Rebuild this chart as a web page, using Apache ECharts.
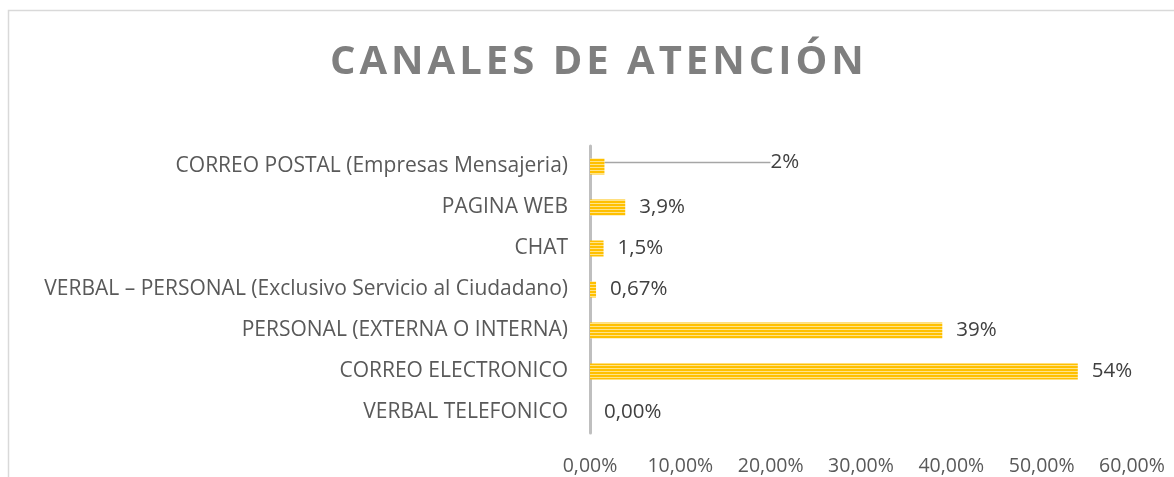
<!DOCTYPE html>
<html>
<head>
<meta charset="utf-8">
<script src="https://cdn.jsdelivr.net/npm/echarts@6/dist/echarts.min.js"></script>
<style>
  html, body { margin: 0; padding: 0; background: #fff; }
  #chart { width: 1174px; height: 477px; }
</style>
</head>
<body>
<div id="chart"></div>
<script>
// bottom to top, as ECharts draws a category y axis
const categories = [
  'VERBAL TELEFONICO',
  'CORREO ELECTRONICO',
  'PERSONAL (EXTERNA O INTERNA)',
  'VERBAL – PERSONAL (Exclusivo Servicio al Ciudadano)',
  'CHAT',
  'PAGINA WEB',
  'CORREO POSTAL (Empresas Mensajeria)'
];
const values = [0, 54, 39, 0.67, 1.5, 3.9, 1.6];
const valueLabels = ['0,00%', '54%', '39%', '0,67%', '1,5%', '3,9%', '2%'];
const xTicks = [0, 10, 20, 30, 40, 50, 60];

const titleText = 'CANALES DE ATENCIÓN';

// striped fill like the original bars
const stripe = document.createElement('canvas');
stripe.width = 4;
stripe.height = 3;
const sctx = stripe.getContext('2d');
sctx.fillStyle = '#FFC000';
sctx.fillRect(0, 0, 4, 2);
sctx.fillStyle = '#FFE38A';
sctx.fillRect(0, 2, 4, 1);

const chart = echarts.init(document.getElementById('chart'));

const option = {
  animation: false,
  title: {
    // letter-spaced like the original heading
    text: titleText.split('').join('\u200a'),
    left: 325,
    top: 38,
    textStyle: {
      fontFamily: 'Open Sans',
      fontSize: 40,
      fontWeight: 'bold',
      color: '#7f7f7f'
    }
  },
  graphic: [{
    type: 'rect',
    shape: { x: 8.5, y: 10.5, width: 1200, height: 500 },
    style: { fill: 'none', stroke: '#d9d9d9', lineWidth: 1.5 },
    silent: true
  }],
  grid: { left: 590, right: 42, top: 146, bottom: 44 },
  xAxis: {
    type: 'value',
    min: xTicks[0],
    max: xTicks[xTicks.length - 1],
    interval: 10,
    axisLine: { show: false },
    axisTick: { show: false },
    splitLine: { show: false },
    axisLabel: {
      margin: 23,
      color: '#595959',
      fontFamily: 'Open Sans',
      fontSize: 19.5,
      formatter: v => v.toFixed(2).replace('.', ',') + '%'
    }
  },
  yAxis: {
    type: 'category',
    data: categories,
    axisLine: { show: true, lineStyle: { color: '#bfbfbf', width: 3 } },
    axisTick: { show: false },
    axisLabel: {
      margin: 22,
      color: '#595959',
      fontFamily: 'Open Sans',
      fontSize: 21
    }
  },
  series: [{
    type: 'bar',
    barWidth: 16,
    data: values.map((v, i) => {
      const item = { value: v };
      if (i === 6) {
        item.label = { padding: [0, 0, 0, 8] };
        item.labelLine = { show: true, lineStyle: { color: '#a6a6a6', width: 1.5 } };
      }
      return item;
    }),
    itemStyle: { color: { image: stripe, repeat: 'repeat' } },
    label: {
      show: true,
      position: 'right',
      distance: 14,
      color: '#404040',
      fontFamily: 'Open Sans',
      fontSize: 20.5,
      formatter: p => valueLabels[p.dataIndex]
    },
    labelLayout: p => (p.dataIndex === 6 ? { dx: 144, dy: -4 } : {})
  }]
};

chart.setOption(option);
</script>
</body>
</html>
